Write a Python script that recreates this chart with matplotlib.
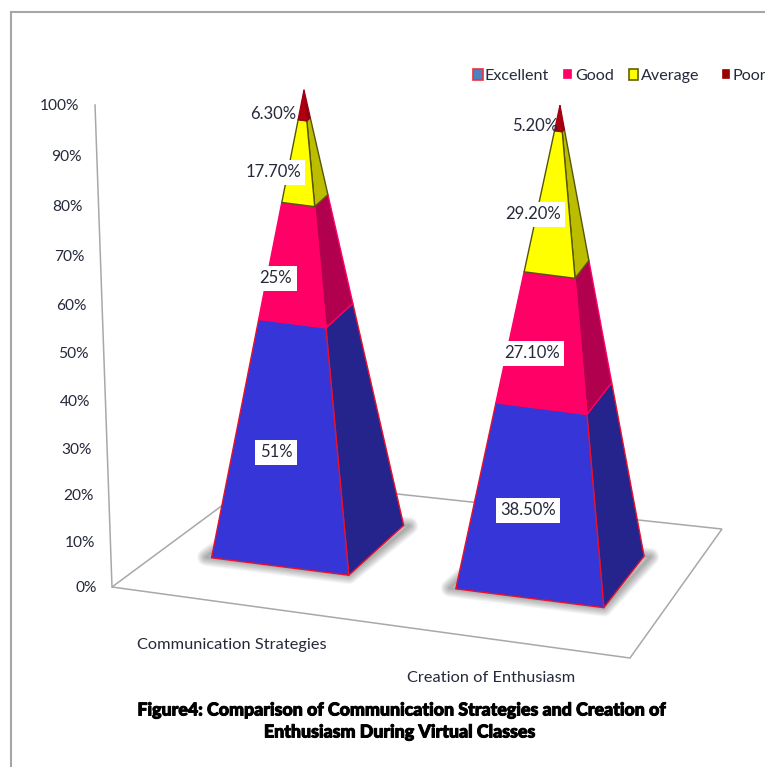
# -*- coding: utf-8 -*-
# Stacked 100% pyramid chart drawn with a small perspective projection

import numpy as np
import matplotlib
matplotlib.use('Agg')
import matplotlib.pyplot as plt
import matplotlib.patheffects as pe
from matplotlib.patches import Polygon, Rectangle

# Data
categories = ['Communication Strategies', 'Creation of Enthusiasm']
series_names = ['Excellent', 'Good', 'Average', 'Poor']
excellent = [51, 38.5]
good = [25, 27.1]
average = [17.7, 29.2]
poor = [6.3, 5.2]
excellent_labels = ['51%', '38.50%']
good_labels = ['25%', '27.10%']
average_labels = ['17.70%', '29.20%']
poor_labels = ['6.30%', '5.20%']
tick_values = [0, 10, 20, 30, 40, 50, 60, 70, 80, 90, 100]
tick_labels = ['0%', '10%', '20%', '30%', '40%', '50%', '60%', '70%', '80%', '90%', '100%']

# Colours per series: front face, side face, edge
front_colors = ['#3535D8', '#FF0066', '#FFFF00', '#B00010']
side_colors = ['#24248C', '#B0004E', '#BDBD00', '#8A0010']
edge_colors = ['#E8102C', '#FF0066', '#55550A', '#A00010']
legend_faces = ['#4F81BD', '#FF0066', '#FFFF00', '#9A0000']
legend_edges = ['#F03040', '#FF0066', '#60600A', '#9A0000']
legend_boxes = [(473.5, 68.5, 9.5, 11), (564.5, 70, 6.5, 8), (629.5, 68.5, 8.5, 11), (723, 70, 6, 8)]
legend_text_x = [485, 575, 641, 733]

text_color = '#25293A'
line_color = '#A8A8A8'

# Projection from floor (u, v) and height z to picture coordinates
proj = np.array([[449.1, 181.6, -22.3, 112.0],
                 [-0.9, -41.9, -487.9, 587.0],
                 [-0.1093, 0.138, -0.056, 1.0]])


def project(u, v, z=0.0):
    p = proj @ np.array([u, v, z, 1.0])
    return np.array([p[0] / p[2], p[1] / p[2]])


# Where the pyramids stand on the floor
centers_u = [0.258, 0.757]
half_u = [0.145, 0.14]
v_front = 0.303
v_back = [0.738, 0.713]
heights = [0.975, 0.956]

fig = plt.figure(figsize=(7.65, 7.67), dpi=100)
ax = fig.add_axes([0, 0, 1, 1])
ax.set_xlim(0, 765)
ax.set_ylim(767, 0)
ax.axis('off')
plt.rcParams['font.family'] = ['Lato', 'DejaVu Sans']

# Outer frame, runs off the right and bottom edges
ax.plot([11.5, 11.5], [767, 11.5], color='#A6A6A6', lw=1.5, zorder=1)
ax.plot([11.5, 765], [11.5, 11.5], color='#A6A6A6', lw=1.5, zorder=1)

# Floor and value axis
corners = [project(0, 0), project(1, 0), project(1, 1), project(0, 1)]
ax.add_patch(Polygon(corners, closed=True, fill=False, edgecolor=line_color, lw=1.1, zorder=2))
wall_top = project(0, 0, 1)
ax.plot([corners[0][0], wall_top[0]], [corners[0][1], wall_top[1]], color=line_color, lw=1.1, zorder=2)

for val, lab in zip(tick_values, tick_labels):
    pos = project(0, 0, val / 100)
    ax.text(pos[0] - 15.5, pos[1] + 1.5, lab, ha='right', va='center', fontsize=11.2, color=text_color, zorder=6)

series = [excellent, good, average, poor]

for i in range(len(categories)):
    u0 = centers_u[i] - half_u[i]
    u1 = centers_u[i] + half_u[i]

    # Soft shadow on the floor: thick see-through outlines round the base
    footprint = [project(u0 - 0.012, v_front), project(u1, v_front),
                 project(u1 + 0.012, v_back[i]), project(u0, v_back[i])]
    for width in np.linspace(13, 1, 13):
        ax.add_patch(Polygon(footprint, closed=True, facecolor='none', edgecolor='black', lw=width,
                             joinstyle='round', alpha=0.028, zorder=3))

    apex = project(centers_u[i], (v_front + v_back[i]) / 2, heights[i])
    fl = project(u0, v_front)
    fr = project(u1, v_front)
    br = project(u1, v_back[i])

    # Stack the four segments from the bottom up
    low = 0.0
    for s in range(len(series)):
        high = low + series[s][i] / 100
        front = [fl + (apex - fl) * low, fr + (apex - fr) * low, fr + (apex - fr) * high, fl + (apex - fl) * high]
        side = [fr + (apex - fr) * low, br + (apex - br) * low, br + (apex - br) * high, fr + (apex - fr) * high]
        ax.add_patch(Polygon(side, closed=True, facecolor=side_colors[s], edgecolor=edge_colors[s], lw=1.0,
                             joinstyle='round', zorder=4))
        ax.add_patch(Polygon(front, closed=True, facecolor=front_colors[s], edgecolor=edge_colors[s], lw=1.0,
                             joinstyle='round', zorder=4))
        low = high

# Value labels in white boxes
label_x = [[276, 528], [276, 532], [273, 533], [273, 535]]
label_y = [[451, 509], [277, 352], [171, 213], [113, 125]]
all_labels = [excellent_labels, good_labels, average_labels, poor_labels]
for s in range(4):
    for i in range(2):
        # the small top labels sit without a visible box
        box = None if s == 3 else dict(facecolor='white', edgecolor='none', boxstyle='square,pad=0.27')
        ax.text(label_x[s][i], label_y[s][i] + 1, all_labels[s][i], ha='center', va='center', fontsize=12,
                color=text_color, bbox=box, zorder=7)

# Category names
ax.text(232, 645, categories[0], ha='center', va='center', fontsize=11.8, color=text_color, zorder=6)
ax.text(491, 678, categories[1], ha='center', va='center', fontsize=11.8, color=text_color, zorder=6)

# Legend, last entry runs off the right edge
for s in range(4):
    x, y, w, h = legend_boxes[s]
    ax.add_patch(Rectangle((x, y), w, h, facecolor=legend_faces[s], edgecolor=legend_edges[s], lw=1.2, zorder=6))
    ax.text(legend_text_x[s], 76, series_names[s], ha='left', va='center', fontsize=11.6, color=text_color, zorder=6)

# Figure caption, thickened with a thin outline
heavy = [pe.withStroke(linewidth=0.7, foreground='black')]
ax.text(400, 710, 'Figure4: Comparison of Communication Strategies and Creation of', ha='center', va='center',
        fontsize=12.8, fontweight='black', color='black', path_effects=heavy, zorder=6)
ax.text(399, 732, 'Enthusiasm During Virtual Classes', ha='center', va='center',
        fontsize=12.8, fontweight='black', color='black', path_effects=heavy, zorder=6)

fig.savefig('out.png', dpi=100)
